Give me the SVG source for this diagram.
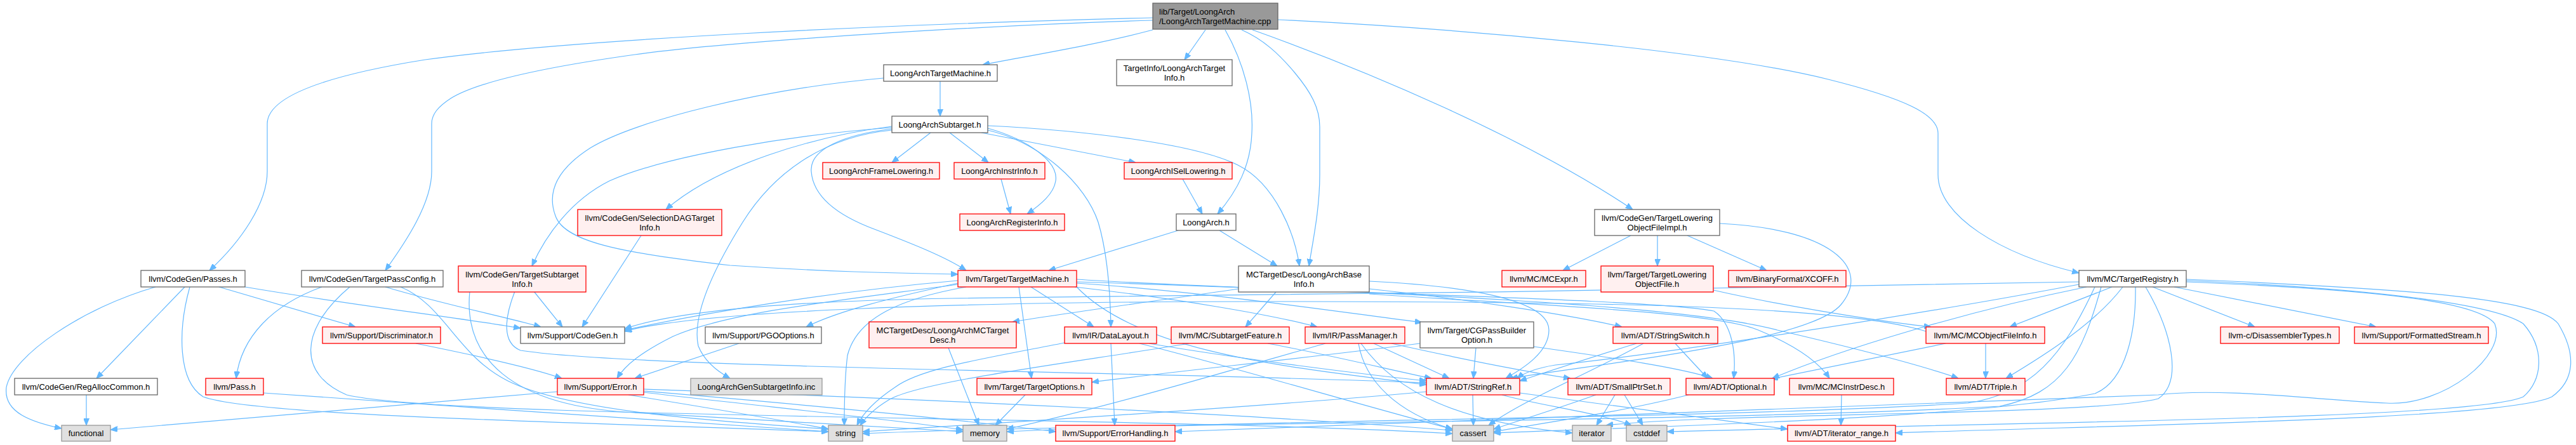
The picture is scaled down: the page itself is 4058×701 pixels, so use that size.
<svg xmlns="http://www.w3.org/2000/svg" width="4058" height="701" viewBox="0 0 4058 701">
<style>
.e{fill:none;stroke:#63b8ff;stroke-width:1.2;marker-end:url(#ah)}
.w{fill:#ffffff;stroke:#666666;stroke-width:1.3}
.r{fill:#fff0f0;stroke:#ff0000;stroke-width:1.3}
.g{fill:#e0e0e0;stroke:#999999;stroke-width:1.3}
.root{fill:#999999;stroke:#666666;stroke-width:1.3}
text{font-family:"Liberation Sans",Arial,Helvetica,sans-serif;font-size:13px;fill:#000000;text-anchor:middle}
text.tl{text-anchor:start}
</style>
<defs>
<marker id="ah" markerUnits="userSpaceOnUse" viewBox="0 0 11 9" markerWidth="11" markerHeight="9" refX="11" refY="4.5" orient="auto">
<path d="M0,0 L11,4.5 L0,9 z" fill="#63b8ff" stroke="#63b8ff"/>
</marker>
</defs>
<rect x="0" y="0" width="4058" height="701" fill="#ffffff"/>
<g id="edges">
<path class="e" d="M1816,47 C1730,70 1620,88 1548,102"/>
<path class="e" d="M1899,47 L1866,94"/>
<path class="e" d="M1930,47 C1960,100 1975,160 1972,210 C1970,260 1950,300 1918,337"/>
<path class="e" d="M1956,47 C1990,62 2015,85 2040,115 C2065,145 2079,170 2079,200 L2079,275 C2079,330 2068,380 2062,419"/>
<path class="e" d="M1973,47 C2150,110 2400,215 2572,330"/>
<path class="e" d="M2013,31 C2300,45 2700,80 2880,125 C3000,155 3053,180 3053,210 L3053,275 C3053,340 3150,400 3275,430"/>
<path class="e" d="M1816,28 C1400,38 900,62 670,94 C520,118 421,150 421,195 L421,270 C421,320 380,380 330,426"/>
<path class="e" d="M1816,32 C1550,40 1150,65 1000,86 C850,107 750,130 710,155 C690,168 680,180 680,195 L680,270 C680,320 640,380 607,426"/>
<path class="e" d="M1481,127 L1481,183"/>
<path class="e" d="M1392,123 C1200,140 1000,190 930,233 C880,265 860,300 875,340 C890,385 1000,400 1150,418 C1300,428 1400,430 1509,432"/>
<path class="e" d="M1466,209 L1405,256"/>
<path class="e" d="M1496,209 L1557,256"/>
<path class="e" d="M1546,209 L1789,256"/>
<path class="e" d="M1556,202 C1620,220 1668,255 1663,285 C1660,305 1640,322 1618,337"/>
<path class="e" d="M1556,205 C1640,225 1710,290 1730,350 C1745,400 1749,460 1750,515"/>
<path class="e" d="M1556,198 C1700,205 1880,225 1950,260 C2010,290 2040,370 2047,419"/>
<path class="e" d="M1405,203 C1330,212 1275,235 1278,270 C1281,310 1320,340 1380,362 C1440,385 1490,405 1522,426"/>
<path class="e" d="M1405,199 C1280,215 1130,260 1049,330"/>
<path class="e" d="M1405,201 C1250,212 1050,245 960,285 C900,315 860,370 838,419"/>
<path class="e" d="M1405,205 C1300,215 1220,270 1170,350 C1120,430 1090,500 1100,545 C1110,570 1130,585 1150,596"/>
<path class="e" d="M1577,282 L1592,337"/>
<path class="e" d="M1863,282 L1894,337"/>
<path class="e" d="M1856,363 L1652,426"/>
<path class="e" d="M1921,363 L2012,419"/>
<path class="e" d="M1010,371 L917,515"/>
<path class="e" d="M2569,371 L2462,426"/>
<path class="e" d="M2611,371 L2611,419"/>
<path class="e" d="M2658,371 L2783,426"/>
<path class="e" d="M2709,352 C2880,360 2950,420 2900,480 C2850,540 2500,575 2380,596"/>
<path class="e" d="M2699,457 C2800,480 2950,505 3042,515"/>
<path class="e" d="M1951,455 C1850,470 1700,490 1595,507"/>
<path class="e" d="M2010,460 L1962,515"/>
<path class="e" d="M2157,443 C2300,450 2440,470 2440,520 C2440,555 2400,580 2372,596"/>
<path class="e" d="M2157,455 C2300,470 2470,495 2555,515"/>
<path class="e" d="M2157,463 C2400,480 2700,490 2770,520 C2830,545 2865,570 2882,596"/>
<path class="e" d="M1605,452 L1625,596"/>
<path class="e" d="M1624,452 L1723,515"/>
<path class="e" d="M1693,452 C1850,470 2000,495 2075,515"/>
<path class="e" d="M1696,446 C1900,460 2100,490 2240,508"/>
<path class="e" d="M1696,452 C1800,560 2050,580 2247,606"/>
<path class="e" d="M1696,440 C2000,460 2600,470 2700,490 C2730,510 2735,560 2731,596"/>
<path class="e" d="M1696,444 C2200,460 2650,480 2800,520 C2950,555 3040,580 3085,596"/>
<path class="e" d="M1509,442 C1300,460 1100,495 984,520"/>
<path class="e" d="M1509,446 C1400,470 1320,490 1270,515"/>
<path class="e" d="M1509,448 C1350,470 1150,490 1060,530 C1010,555 985,575 972,596"/>
<path class="e" d="M1522,452 C1420,470 1350,500 1335,560 C1330,600 1330,640 1330,670"/>
<path class="e" d="M655,541 C750,560 840,580 885,596"/>
<path class="e" d="M245,452 C130,485 20,560 10,610 C5,650 50,665 97,675"/>
<path class="e" d="M291,452 L152,596"/>
<path class="e" d="M299,452 C280,520 280,600 320,625 C400,655 900,665 1305,680"/>
<path class="e" d="M345,452 L560,515"/>
<path class="e" d="M386,452 C550,480 720,500 820,517"/>
<path class="e" d="M507,452 C430,480 380,530 372,596"/>
<path class="e" d="M551,452 C470,520 470,590 546,622 C700,660 1800,655 2288,683"/>
<path class="e" d="M607,452 C700,480 800,500 852,515"/>
<path class="e" d="M631,452 C700,480 720,560 800,600 C900,650 1150,665 1305,676"/>
<path class="e" d="M841,459 L886,515"/>
<path class="e" d="M811,459 C795,500 790,540 820,552 C1000,580 1800,585 2247,603"/>
<path class="e" d="M740,459 C730,560 800,640 1000,650 C1200,660 1400,672 1517,680"/>
<path class="e" d="M1164,541 L1000,596"/>
<path class="e" d="M1494,548 L1542,670"/>
<path class="e" d="M1615,622 L1568,670"/>
<path class="e" d="M1750,541 L1756,670"/>
<path class="e" d="M1677,540 C1550,565 1450,580 1410,610 C1380,630 1360,650 1350,670"/>
<path class="e" d="M1795,541 C1950,580 2150,640 2288,676"/>
<path class="e" d="M1810,541 C1950,565 2150,590 2247,600"/>
<path class="e" d="M1873,541 C1700,570 1450,600 1400,630 C1375,645 1362,660 1355,670"/>
<path class="e" d="M1997,541 C2100,560 2200,585 2255,596"/>
<path class="e" d="M2088,541 C1950,580 1750,640 1586,676"/>
<path class="e" d="M2140,541 C2150,600 2200,650 2288,676"/>
<path class="e" d="M2144,541 C2200,620 2300,665 2477,682"/>
<path class="e" d="M2164,541 L2283,596"/>
<path class="e" d="M2192,541 C2300,565 2400,585 2474,596"/>
<path class="e" d="M2325,548 L2321,596"/>
<path class="e" d="M2237,541 C2050,565 1850,585 1720,602"/>
<path class="e" d="M2416,546 C2550,565 2650,580 2698,596"/>
<path class="e" d="M2578,541 C2500,565 2440,585 2394,600"/>
<path class="e" d="M2589,541 C2500,590 2400,630 2345,670"/>
<path class="e" d="M2639,541 L2690,596"/>
<path class="e" d="M2320,622 L2321,670"/>
<path class="e" d="M2247,617 C2000,640 1600,665 1359,680"/>
<path class="e" d="M2366,622 C2430,640 2520,650 2570,670"/>
<path class="e" d="M2394,619 C2550,640 2700,660 2816,676"/>
<path class="e" d="M2514,622 C2450,645 2400,660 2353,676"/>
<path class="e" d="M2544,622 L2515,670"/>
<path class="e" d="M2559,622 L2588,670"/>
<path class="e" d="M2660,622 C2550,650 2420,668 2353,680"/>
<path class="e" d="M2901,622 L2900,670"/>
<path class="e" d="M3128,541 L3128,596"/>
<path class="e" d="M3065,541 C2950,565 2850,585 2790,597"/>
<path class="e" d="M3034,522 C2900,480 2500,475 2000,475 C1500,475 1100,490 984,522"/>
<path class="e" d="M3391,452 L3552,515"/>
<path class="e" d="M3425,452 L3743,515"/>
<path class="e" d="M3327,452 L3166,515"/>
<path class="e" d="M3344,452 C3300,510 3220,560 3160,596"/>
<path class="e" d="M3287,452 C3100,490 2900,550 2792,596"/>
<path class="e" d="M3275,444 C2800,455 2000,465 1500,470 C1200,475 1050,495 984,518"/>
<path class="e" d="M3444,440 C3800,455 4000,470 4030,510 C4060,560 4055,600 4020,625 C3950,660 3400,668 2986,682"/>
<path class="e" d="M3444,442 C3750,455 3930,480 3975,510 C4010,550 4005,600 3975,625 C3900,660 3200,665 2626,680"/>
<path class="e" d="M3444,444 C3700,455 3900,470 3930,510 C3950,560 3850,640 3760,635 C3650,630 3500,610 3400,622 C3000,640 2300,660 1851,680"/>
<path class="e" d="M3364,452 C3365,520 3350,600 3300,620 C3100,660 2600,672 2353,682"/>
<path class="e" d="M3380,452 C3420,520 3440,600 3400,628 C3300,655 2700,650 2530,670"/>
<path class="e" d="M3300,452 C3250,560 3200,620 3100,635 C2700,660 2000,660 1586,680"/>
<path class="e" d="M3310,452 C3280,560 3250,620 3150,640 C2700,665 1800,665 1359,683"/>
<path class="e" d="M3275,448 C3000,500 2600,560 2450,575 C2420,580 2400,588 2390,596"/>
<path class="e" d="M1014,616 C1300,640 1500,660 1663,680"/>
<path class="e" d="M1014,613 C1500,630 2000,655 2288,678"/>
<path class="e" d="M878,617 C600,640 350,660 174,677"/>
<path class="e" d="M1014,618 C1200,640 1400,660 1517,677"/>
<path class="e" d="M990,622 C1100,640 1250,665 1305,676"/>
<path class="e" d="M415,619 C700,640 1100,665 1305,680"/>
<path class="e" d="M136,622 L136,670"/>
</g>
<g id="n_root"><rect class="root" x="1816" y="5" width="197" height="41"/><text class="tl" x="1826" y="22.5">lib/Target/LoongArch</text><text class="tl" x="1826" y="37.5">/LoongArchTargetMachine.cpp</text></g>
<g id="n_latm"><rect class="w" x="1392" y="102" width="179" height="26"/><text x="1481.5" y="119.5">LoongArchTargetMachine.h</text></g>
<g id="n_ti"><rect class="w" x="1759" y="94" width="182" height="41"/><text x="1850" y="111.5">TargetInfo/LoongArchTarget</text><text x="1850" y="126.5">Info.h</text></g>
<g id="n_sub"><rect class="w" x="1405" y="183" width="151" height="26"/><text x="1480.5" y="200.5">LoongArchSubtarget.h</text></g>
<g id="n_frame"><rect class="r" x="1296" y="256" width="184" height="26"/><text x="1388" y="273.5">LoongArchFrameLowering.h</text></g>
<g id="n_instr"><rect class="r" x="1503" y="256" width="143" height="26"/><text x="1574.5" y="273.5">LoongArchInstrInfo.h</text></g>
<g id="n_isel"><rect class="r" x="1771" y="256" width="170" height="26"/><text x="1856" y="273.5">LoongArchISelLowering.h</text></g>
<g id="n_reg"><rect class="r" x="1512" y="337" width="165" height="26"/><text x="1594.5" y="354.5">LoongArchRegisterInfo.h</text></g>
<g id="n_la"><rect class="w" x="1853" y="337" width="94" height="26"/><text x="1900" y="354.5">LoongArch.h</text></g>
<g id="n_seldag"><rect class="r" x="910" y="330" width="227" height="41"/><text x="1023.5" y="347.5">llvm/CodeGen/SelectionDAGTarget</text><text x="1023.5" y="362.5">Info.h</text></g>
<g id="n_tlofimpl"><rect class="w" x="2512" y="330" width="197" height="41"/><text x="2610.5" y="347.5">llvm/CodeGen/TargetLowering</text><text x="2610.5" y="362.5">ObjectFileImpl.h</text></g>
<g id="n_passes"><rect class="w" x="222" y="426" width="164" height="26"/><text x="304" y="443.5">llvm/CodeGen/Passes.h</text></g>
<g id="n_tpc"><rect class="w" x="475" y="426" width="223" height="26"/><text x="586.5" y="443.5">llvm/CodeGen/TargetPassConfig.h</text></g>
<g id="n_tsi"><rect class="r" x="722" y="419" width="201" height="41"/><text x="822.5" y="436.5">llvm/CodeGen/TargetSubtarget</text><text x="822.5" y="451.5">Info.h</text></g>
<g id="n_tm"><rect class="r" x="1509" y="426" width="187" height="26"/><text x="1602.5" y="443.5">llvm/Target/TargetMachine.h</text></g>
<g id="n_baseinfo"><rect class="w" x="1951" y="419" width="206" height="41"/><text x="2054" y="436.5">MCTargetDesc/LoongArchBase</text><text x="2054" y="451.5">Info.h</text></g>
<g id="n_mcexpr"><rect class="r" x="2366" y="426" width="132" height="26"/><text x="2432" y="443.5">llvm/MC/MCExpr.h</text></g>
<g id="n_tlof"><rect class="r" x="2522" y="419" width="177" height="41"/><text x="2610.5" y="436.5">llvm/Target/TargetLowering</text><text x="2610.5" y="451.5">ObjectFile.h</text></g>
<g id="n_xcoff"><rect class="r" x="2723" y="426" width="185" height="26"/><text x="2815.5" y="443.5">llvm/BinaryFormat/XCOFF.h</text></g>
<g id="n_tr"><rect class="w" x="3275" y="426" width="169" height="26"/><text x="3359.5" y="443.5">llvm/MC/TargetRegistry.h</text></g>
<g id="n_disc"><rect class="r" x="508" y="515" width="186" height="26"/><text x="601" y="532.5">llvm/Support/Discriminator.h</text></g>
<g id="n_codegen"><rect class="w" x="820" y="515" width="164" height="26"/><text x="902" y="532.5">llvm/Support/CodeGen.h</text></g>
<g id="n_pgo"><rect class="w" x="1111" y="515" width="183" height="26"/><text x="1202.5" y="532.5">llvm/Support/PGOOptions.h</text></g>
<g id="n_mctd"><rect class="r" x="1369" y="507" width="232" height="41"/><text x="1485" y="524.5">MCTargetDesc/LoongArchMCTarget</text><text x="1485" y="539.5">Desc.h</text></g>
<g id="n_dl"><rect class="r" x="1677" y="515" width="145" height="26"/><text x="1749.5" y="532.5">llvm/IR/DataLayout.h</text></g>
<g id="n_sf"><rect class="r" x="1845" y="515" width="186" height="26"/><text x="1938" y="532.5">llvm/MC/SubtargetFeature.h</text></g>
<g id="n_pm"><rect class="r" x="2056" y="515" width="157" height="26"/><text x="2134.5" y="532.5">llvm/IR/PassManager.h</text></g>
<g id="n_cgpbo"><rect class="w" x="2237" y="507" width="179" height="41"/><text x="2326.5" y="524.5">llvm/Target/CGPassBuilder</text><text x="2326.5" y="539.5">Option.h</text></g>
<g id="n_ss"><rect class="r" x="2541" y="515" width="165" height="26"/><text x="2623.5" y="532.5">llvm/ADT/StringSwitch.h</text></g>
<g id="n_mofi"><rect class="r" x="3034" y="515" width="187" height="26"/><text x="3127.5" y="532.5">llvm/MC/MCObjectFileInfo.h</text></g>
<g id="n_dis"><rect class="r" x="3498" y="515" width="187" height="26"/><text x="3591.5" y="532.5">llvm-c/DisassemblerTypes.h</text></g>
<g id="n_fs"><rect class="r" x="3709" y="515" width="211" height="26"/><text x="3814.5" y="532.5">llvm/Support/FormattedStream.h</text></g>
<g id="n_rac"><rect class="w" x="23" y="596" width="225" height="26"/><text x="135.5" y="613.5">llvm/CodeGen/RegAllocCommon.h</text></g>
<g id="n_pass"><rect class="r" x="324" y="596" width="91" height="26"/><text x="369.5" y="613.5">llvm/Pass.h</text></g>
<g id="n_error"><rect class="r" x="878" y="596" width="136" height="26"/><text x="946" y="613.5">llvm/Support/Error.h</text></g>
<g id="n_gensub"><rect class="g" x="1088" y="596" width="207" height="26"/><text x="1191.5" y="613.5">LoongArchGenSubtargetInfo.inc</text></g>
<g id="n_to"><rect class="r" x="1539" y="596" width="181" height="26"/><text x="1629.5" y="613.5">llvm/Target/TargetOptions.h</text></g>
<g id="n_sr"><rect class="r" x="2247" y="596" width="147" height="26"/><text x="2320.5" y="613.5">llvm/ADT/StringRef.h</text></g>
<g id="n_sps"><rect class="r" x="2470" y="596" width="161" height="26"/><text x="2550.5" y="613.5">llvm/ADT/SmallPtrSet.h</text></g>
<g id="n_opt"><rect class="r" x="2656" y="596" width="139" height="26"/><text x="2725.5" y="613.5">llvm/ADT/Optional.h</text></g>
<g id="n_mcid"><rect class="r" x="2819" y="596" width="164" height="26"/><text x="2901" y="613.5">llvm/MC/MCInstrDesc.h</text></g>
<g id="n_triple"><rect class="r" x="3066" y="596" width="124" height="26"/><text x="3128" y="613.5">llvm/ADT/Triple.h</text></g>
<g id="n_functional"><rect class="g" x="97" y="670" width="77" height="25"/><text x="135.5" y="687">functional</text></g>
<g id="n_string"><rect class="g" x="1305" y="670" width="54" height="25"/><text x="1332" y="687">string</text></g>
<g id="n_memory"><rect class="g" x="1517" y="670" width="69" height="25"/><text x="1551.5" y="687">memory</text></g>
<g id="n_eh"><rect class="r" x="1663" y="670" width="188" height="25"/><text x="1757" y="687">llvm/Support/ErrorHandling.h</text></g>
<g id="n_cassert"><rect class="g" x="2288" y="670" width="65" height="25"/><text x="2320.5" y="687">cassert</text></g>
<g id="n_iterator"><rect class="g" x="2477" y="670" width="61" height="25"/><text x="2507.5" y="687">iterator</text></g>
<g id="n_cstddef"><rect class="g" x="2562" y="670" width="64" height="25"/><text x="2594" y="687">cstddef</text></g>
<g id="n_itrange"><rect class="r" x="2816" y="670" width="170" height="25"/><text x="2901" y="687">llvm/ADT/iterator_range.h</text></g>
</svg>
